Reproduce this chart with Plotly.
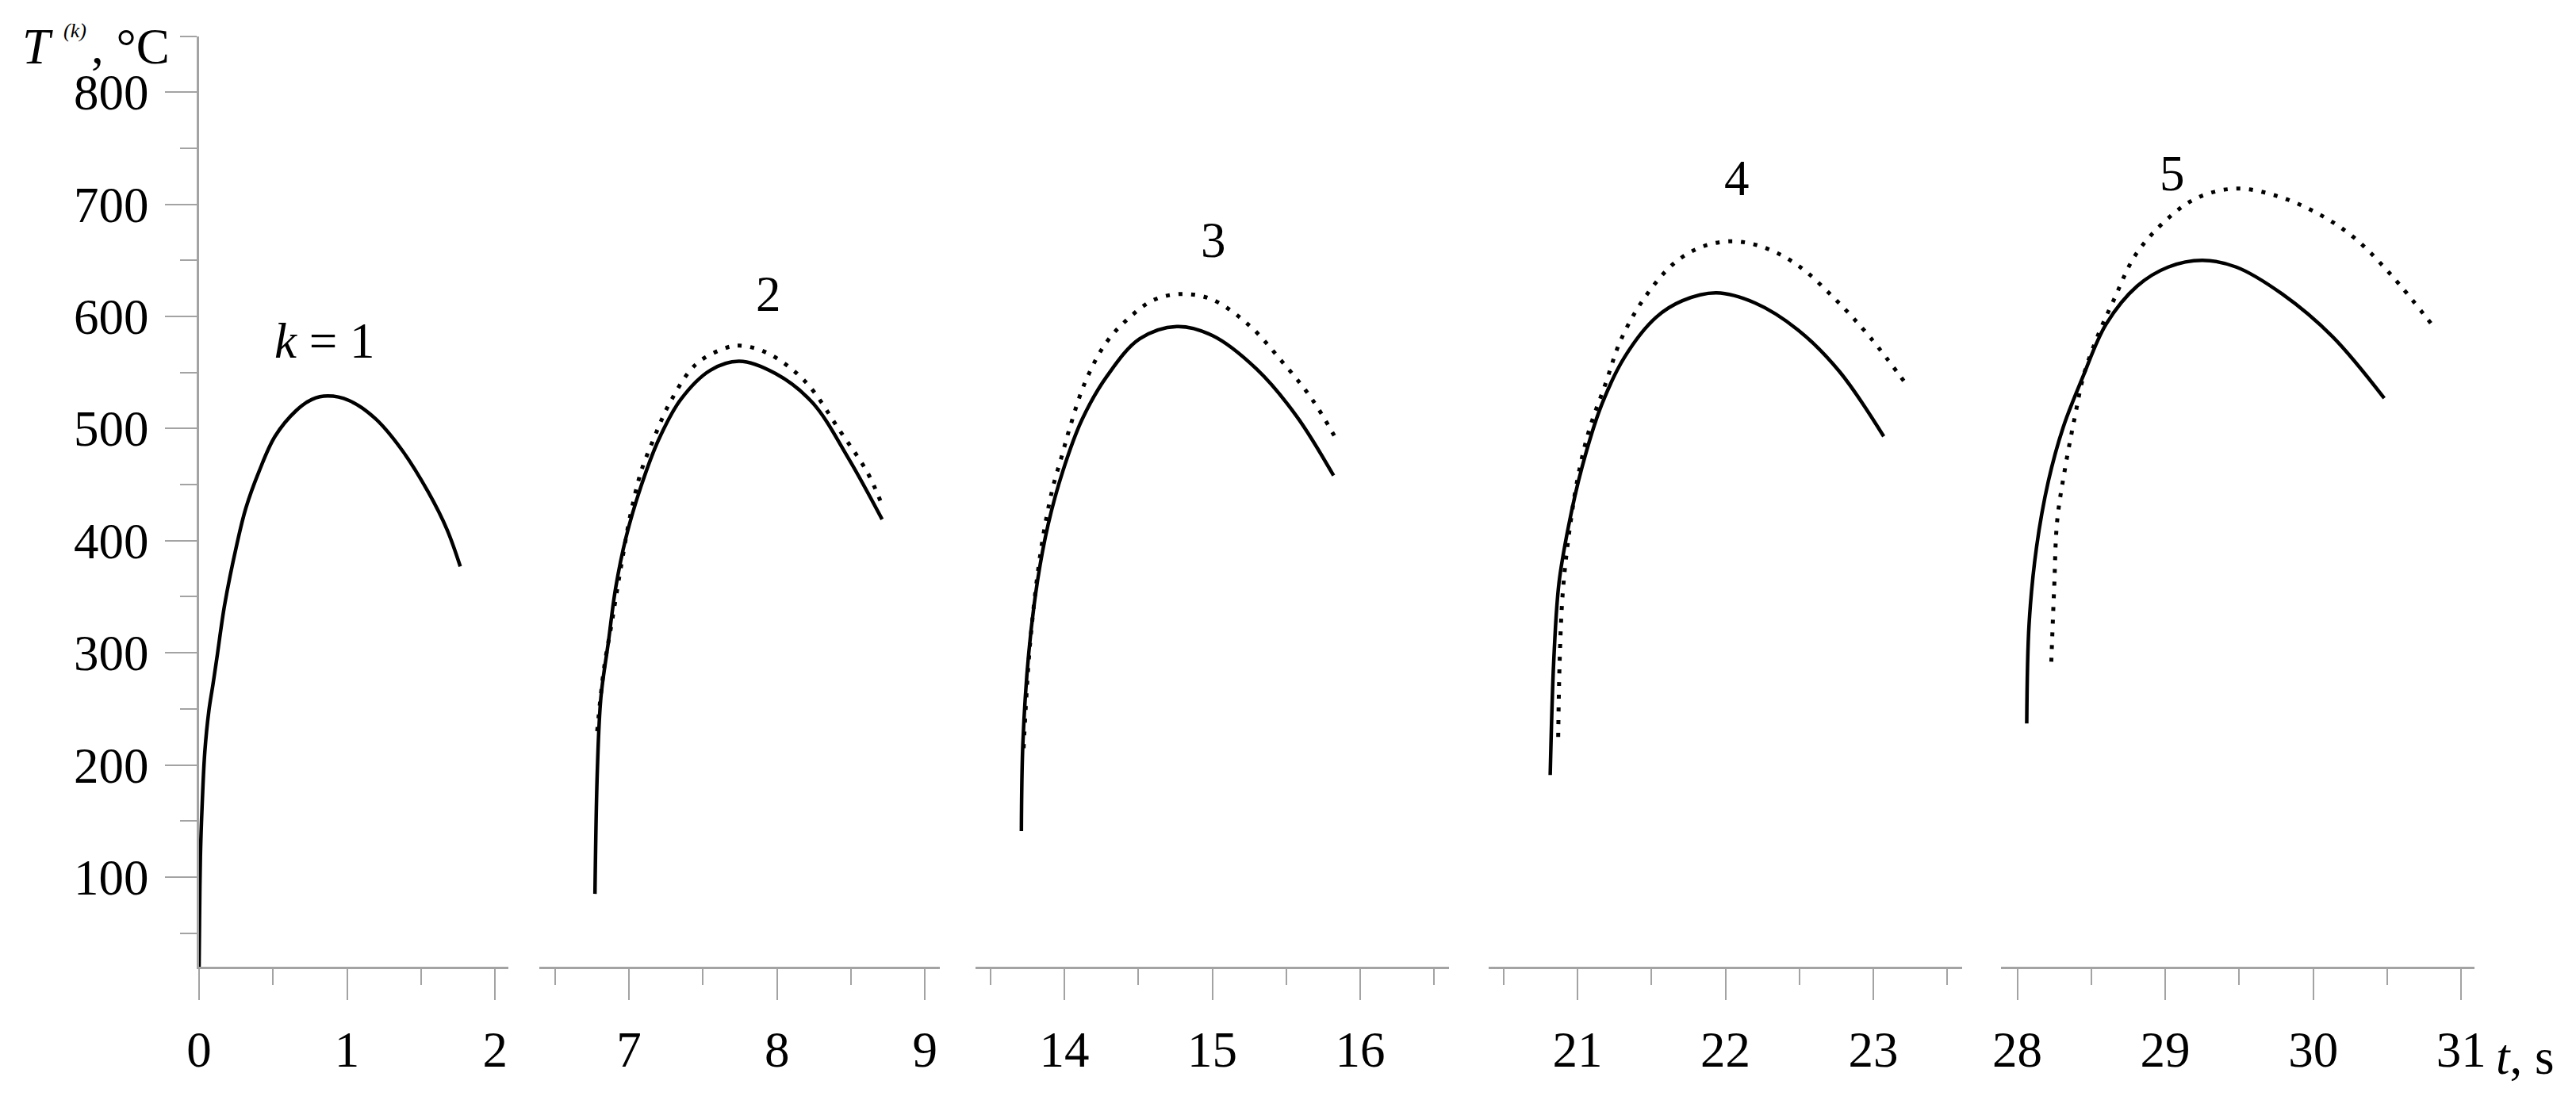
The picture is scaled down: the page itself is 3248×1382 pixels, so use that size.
import plotly.graph_objects as go

# ---------------- data ----------------
# k = 1 (solid only)
t_solid_1 = [0.0, 0.003, 0.009, 0.021, 0.039, 0.066, 0.093, 0.12, 0.173, 0.254, 0.316, 0.406, 0.513, 0.656, 0.763, 0.87, 1.013, 1.19, 1.37, 1.55, 1.675, 1.765]
T_solid_1 = [20, 60, 118, 165, 212, 248, 271, 295, 343, 396, 429, 462, 493, 516, 526, 529, 525, 509, 481, 443, 410, 377]

# k = 2
t_solid_2 = [6.77, 6.786, 6.81, 6.86, 6.91, 6.98, 7.08, 7.20, 7.35, 7.55, 7.745, 7.99, 8.24, 8.48, 8.71]
T_solid_2 = [85, 195, 260, 309, 358, 403, 448, 490, 526, 552, 560, 549, 523, 474, 419]
t_dot_2 = [6.785, 6.83, 6.885, 6.946, 7.008, 7.08, 7.155, 7.28, 7.45, 7.635, 7.745, 7.94, 8.19, 8.43, 8.61, 8.70]
T_dot_2 = [230, 285, 328, 377, 422, 461, 487, 524, 557, 571, 574, 567, 542, 497, 461, 435]

# k = 3
t_solid_3 = [13.71, 13.72, 13.76, 13.82, 13.89, 13.99, 14.12, 14.29, 14.51, 14.76, 15.0, 15.30, 15.57, 15.82]
T_solid_3 = [141, 219, 300, 365, 414, 462, 508, 547, 580, 591, 583, 553, 511, 458]
t_dot_3 = [13.725, 13.77, 13.845, 13.92, 13.98, 14.04, 14.14, 14.28, 14.44, 14.61, 14.80, 15.0, 15.25, 15.47, 15.67, 15.84]
T_dot_3 = [215, 310, 394, 446, 474, 502, 541, 576, 599, 615, 620, 615, 592, 560, 527, 490]

# k = 4
t_solid_4 = [20.816, 20.84, 20.875, 20.94, 21.03, 21.16, 21.32, 21.53, 21.71, 21.94, 22.20, 22.49, 22.77, 23.07]
T_solid_4 = [191, 293, 362, 413, 465, 520, 564, 599, 614, 621, 612, 588, 551, 493]
t_dot_4 = [20.87, 20.88, 20.90, 20.94, 21.005, 21.08, 21.19, 21.29, 21.445, 21.65, 21.84, 22.045, 22.25, 22.485, 22.745, 22.98, 23.23]
T_dot_4 = [225, 293, 352, 403, 458, 499, 540, 578, 615, 647, 662, 667, 662, 646, 615, 581, 538]

# k = 5
t_solid_5 = [28.064, 28.08, 28.13, 28.21, 28.31, 28.44, 28.60, 28.81, 29.02, 29.25, 29.48, 29.79, 30.13, 30.48]
T_solid_5 = [237, 326, 394, 453, 501, 545, 593, 627, 644, 650, 644, 620, 582, 527]
t_dot_5 = [28.23, 28.25, 28.27, 28.325, 28.39, 28.45, 28.545, 28.65, 28.80, 29.015, 29.22, 29.48, 29.74, 30.0, 30.26, 30.52, 30.83]
T_dot_5 = [292, 360, 418, 466, 511, 548, 583, 614, 655, 687, 706, 714, 708, 694, 672, 638, 588]

# axis ticks
y_major = [100, 200, 300, 400, 500, 600, 700, 800]
y_minor = [50, 150, 250, 350, 450, 550, 650, 750, 850]
x_major = [[0, 1, 2], [7, 8, 9], [14, 15, 16], [21, 22, 23], [28, 29, 30, 31]]
x_minor = [[0.5, 1.5], [6.5, 7.5, 8.5], [13.5, 14.5, 15.5, 16.5], [20.5, 21.5, 22.5, 23.5], [28.5, 29.5, 30.5]]
x_ranges = [[0.0, 2.09], [6.394, 9.10], [13.40, 16.60], [20.40, 23.60], [27.89, 31.09]]

# curve labels
label_text = ["<i>k</i> = 1", "2", "3", "4", "5"]
label_t = [0.85, 7.943, 15.01, 22.08, 29.05]
label_T = [578, 620, 668, 723, 727]

# ---------------- figure ----------------
# the page body has an 8px default margin, so the figure is drawn 8px in from
# the window corner; target window pixels are converted accordingly
OFF = 8
W, H = 3248 - OFF, 1382 - OFF
FONT = "Liberation Serif"
FS = 63
AXC = "#a3a3a3"


def px(xw):
    return (xw - OFF) / W


def py(yw):
    return (H - (yw - OFF)) / H


seg_px = [(251, 641), (680, 1185), (1230, 1827), (1877, 2474), (2523, 3120)]

solid = [(t_solid_1, T_solid_1), (t_solid_2, T_solid_2), (t_solid_3, T_solid_3),
         (t_solid_4, T_solid_4), (t_solid_5, T_solid_5)]
dotted = [None, (t_dot_2, T_dot_2), (t_dot_3, T_dot_3), (t_dot_4, T_dot_4), (t_dot_5, T_dot_5)]

fig = go.Figure()
for i in range(5):
    xa = "x" if i == 0 else f"x{i+1}"
    ts, Ts = solid[i]
    fig.add_trace(go.Scatter(x=ts, y=Ts, xaxis=xa, yaxis="y", mode="lines",
                             line=dict(color="black", width=4.5, shape="spline", smoothing=1.0),
                             showlegend=False, hoverinfo="skip"))
    if dotted[i] is not None:
        td, Td = dotted[i]
        fig.add_trace(go.Scatter(x=td, y=Td, xaxis=xa, yaxis="y", mode="lines",
                                 line=dict(color="black", width=5, dash="5px,11px",
                                           shape="spline", smoothing=1.0),
                                 showlegend=False, hoverinfo="skip"))

layout = dict(
    width=W, height=H,
    margin=dict(l=0, r=0, t=0, b=0, pad=0),
    paper_bgcolor="white", plot_bgcolor="white",
    font=dict(family=FONT, size=FS, color="black"),
    showlegend=False,
    yaxis=dict(
        domain=[py(1219), py(45.5)], range=[20, 850], anchor="x",
        automargin=False,
        showline=True, linecolor=AXC, linewidth=3,
        showgrid=False, zeroline=False,
        tickmode="array", tickvals=y_major, ticktext=[str(v) for v in y_major],
        ticks="outside", ticklen=40, tickwidth=2, tickcolor=AXC,
        ticklabelstandoff=8,
        tickfont=dict(family=FONT, size=FS, color="black"),
        minor=dict(tickmode="array", tickvals=y_minor, ticks="outside",
                   ticklen=21, tickwidth=2, tickcolor=AXC, showgrid=False),
    ),
)
for i in range(5):
    key = "xaxis" if i == 0 else f"xaxis{i+1}"
    x0, x1 = seg_px[i]
    layout[key] = dict(
        domain=[px(x0), px(x1)], range=x_ranges[i], anchor="y",
        automargin=False,
        showline=True, linecolor=AXC, linewidth=3,
        showgrid=False, zeroline=False,
        tickmode="array", tickvals=x_major[i], ticktext=[str(v) for v in x_major[i]],
        ticks="outside", ticklen=39, tickwidth=2, tickcolor=AXC,
        ticklabelstandoff=8,
        tickfont=dict(family=FONT, size=FS, color="black"),
        minor=dict(tickmode="array", tickvals=x_minor[i], ticks="outside",
                   ticklen=20, tickwidth=2, tickcolor=AXC, showgrid=False),
    )
fig.update_layout(**layout)

annotations = []
for i in range(5):
    xr = "x" if i == 0 else f"x{i+1}"
    annotations.append(dict(x=label_t[i], y=label_T[i], xref=xr, yref="y",
                            text=label_text[i], showarrow=False,
                            xanchor="center", yanchor="middle",
                            font=dict(family=FONT, size=FS, color="black")))
# y-axis title pieces: T, superscript (k), ", °C"
annotations.append(dict(x=px(27), y=py(59), xref="paper", yref="paper",
                        text="<i>T</i>", showarrow=False, xanchor="left", yanchor="middle",
                        borderpad=0, font=dict(family=FONT, size=FS, color="black")))
annotations.append(dict(x=px(79), y=py(39), xref="paper", yref="paper",
                        text="<i>(k)</i>", showarrow=False, xanchor="left", yanchor="middle",
                        borderpad=0, font=dict(family=FONT, size=26, color="black")))
annotations.append(dict(x=px(114), y=py(59), xref="paper", yref="paper",
                        text=", °C", showarrow=False, xanchor="left", yanchor="middle",
                        borderpad=0, font=dict(family=FONT, size=FS, color="black")))
annotations.append(dict(x=px(3145), y=py(1333), xref="paper", yref="paper",
                        text="<i>t</i>, s", showarrow=False, xanchor="left", yanchor="middle",
                        font=dict(family=FONT, size=FS, color="black")))
fig.update_layout(annotations=annotations)

fig.write_html("out.html")
